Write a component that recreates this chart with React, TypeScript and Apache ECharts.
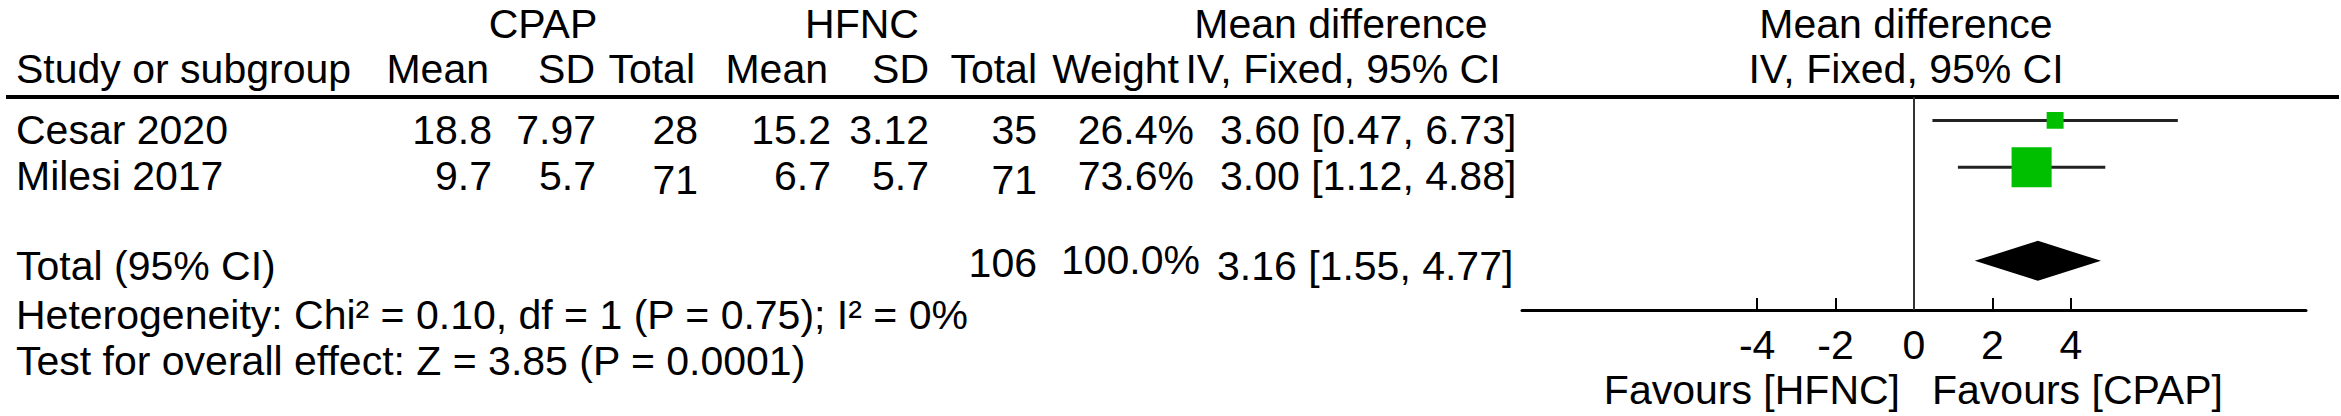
import React, { useEffect, useRef } from 'react';
import * as echarts from 'echarts';

// ---- data ----
const studies = ['Cesar 2020', 'Milesi 2017'];
const cpapMean = [18.8, 9.7];
const cpapSD = [7.97, 5.7];
const cpapTotal = [28, 71];
const hfncMean = [15.2, 6.7];
const hfncSD = [3.12, 5.7];
const hfncTotal = [35, 71];
const weights = [26.4, 73.6];
const md = [3.6, 3.0];
const ciLow = [0.47, 1.12];
const ciHigh = [6.73, 4.88];

const totalLabel = 'Total (95% CI)';
const totalHfnc = 106;
const totalWeight = 100.0;
const totalMd = 3.16;
const totalLow = 1.55;
const totalHigh = 4.77;

const heterogeneityText = 'Heterogeneity: Chi² = 0.10, df = 1 (P = 0.75); I² = 0%';
const overallText = 'Test for overall effect: Z = 3.85 (P = 0.0001)';

const axisTicks = [-4, -2, 0, 2, 4];
const axisMin = -10;
const axisMax = 10;
const favoursLeft = 'Favours [HFNC]';
const favoursRight = 'Favours [CPAP]';

const FONT_FAMILY = '"Liberation Sans", Arial, Helvetica, sans-serif';
const FS = 41;

function txt(text: string, x: number, y: number, align: 'left' | 'right' | 'center' = 'left') {
  return {
    type: 'text',
    x,
    y,
    silent: true,
    style: {
      text,
      font: `${FS}px ${FONT_FAMILY}`,
      fill: '#000',
      align,
      textAlign: align,
      verticalAlign: 'middle',
      textVerticalAlign: 'middle',
    },
  };
}

export default function App() {
  const ref = useRef<HTMLDivElement>(null);

  useEffect(() => {
    if (!ref.current) return;
    const chart = echarts.init(ref.current, undefined, { renderer: 'svg' });

    // column anchors (layout)
    const colStudy = 16;
    const colCpapMean = 492;
    const colCpapSD = 596;
    const colCpapTotal = 698;
    const colHfncMean = 831;
    const colHfncSD = 929;
    const colHfncTotal = 1037;
    const colWeight = 1194;
    const colCI = 1220;

    const yH1 = 24;
    const yH2 = 69;
    const rowY = [130, 176];
    const yTotal = 266;
    const yHet = 315;
    const yTest = 361;

    const graphics: any[] = [
      txt('CPAP', 543, yH1, 'center'),
      txt('HFNC', 862, yH1, 'center'),
      txt('Mean difference', 1341, yH1, 'center'),
      txt('Mean difference', 1906, yH1, 'center'),
      txt('Study or subgroup', colStudy, yH2, 'left'),
      txt('Mean', 489, yH2, 'right'),
      txt('SD', 595, yH2, 'right'),
      txt('Total', 695, yH2, 'right'),
      txt('Mean', 828, yH2, 'right'),
      txt('SD', 929, yH2, 'right'),
      txt('Total', 1037, yH2, 'right'),
      txt('Weight', 1179, yH2, 'right'),
      txt('IV, Fixed, 95% CI', 1343, yH2, 'center'),
      txt('IV, Fixed, 95% CI', 1906, yH2, 'center'),
      {
        type: 'line',
        silent: true,
        shape: { x1: 6, y1: 97, x2: 2339, y2: 97 },
        style: { stroke: '#000', lineWidth: 4 },
      },
    ];

    studies.forEach((s, i) => {
      const y = rowY[i];
      const dy71 = cpapTotal[i] === 71 ? 4 : 0;
      graphics.push(
        txt(s, colStudy, y, 'left'),
        txt(String(cpapMean[i]), colCpapMean, y, 'right'),
        txt(String(cpapSD[i]), colCpapSD, y, 'right'),
        txt(String(cpapTotal[i]), colCpapTotal, y + dy71, 'right'),
        txt(String(hfncMean[i]), colHfncMean, y, 'right'),
        txt(String(hfncSD[i]), colHfncSD, y, 'right'),
        txt(String(hfncTotal[i]), colHfncTotal, y + dy71, 'right'),
        txt(weights[i].toFixed(1) + '%', colWeight, y, 'right'),
        txt(`${md[i].toFixed(2)} [${ciLow[i].toFixed(2)}, ${ciHigh[i].toFixed(2)}]`, colCI, y, 'left')
      );
    });

    graphics.push(
      txt(totalLabel, colStudy, yTotal, 'left'),
      txt(String(totalHfnc), colHfncTotal, yTotal - 3, 'right'),
      txt(totalWeight.toFixed(1) + '%', colWeight + 6, yTotal - 6, 'right'),
      txt(`${totalMd.toFixed(2)} [${totalLow.toFixed(2)}, ${totalHigh.toFixed(2)}]`, colCI - 3, yTotal, 'left'),
      txt(heterogeneityText, colStudy, yHet, 'left'),
      txt(overallText, colStudy, yTest, 'left'),
      txt(favoursLeft, 1900, 390, 'right'),
      txt(favoursRight, 1932, 390, 'left')
    );

    const studyData = studies.map((_, i) => [md[i], ciLow[i], ciHigh[i], i + 1, weights[i]]);
    const totalData = [[totalMd, totalLow, totalHigh, studies.length + 2]];

    chart.setOption({
      animation: false,
      backgroundColor: '#fff',
      grid: {
        left: 1522,
        top: 97,
        width: 784,
        height: 213,
        containLabel: false,
        outerBoundsMode: 'none',
      },
      xAxis: {
        type: 'value',
        min: axisMin,
        max: axisMax,
        interval: 2,
        splitLine: { show: false },
        axisLine: { show: true, onZero: false, lineStyle: { color: '#000', width: 3 } },
        axisTick: {
          show: true,
          inside: true,
          length: 12,
          customValues: axisTicks,
          lineStyle: { color: '#000', width: 2 },
        },
        axisLabel: {
          show: true,
          customValues: axisTicks,
          fontSize: FS,
          fontFamily: FONT_FAMILY,
          color: '#000',
          margin: 14,
        },
      },
      yAxis: {
        type: 'value',
        min: 0.5,
        max: 5.05,
        inverse: true,
        show: false,
        splitLine: { show: false },
      },
      graphic: { elements: graphics },
      series: [
        {
          type: 'custom',
          name: 'studies',
          silent: true,
          coordinateSystem: 'cartesian2d',
          data: studyData,
          encode: { x: [0, 1, 2], y: 3 },
          renderItem: (params: any, api: any) => {
            const yv = api.value(3);
            const c = api.coord([api.value(0), yv]);
            const l = api.coord([api.value(1), yv]);
            const h = api.coord([api.value(2), yv]);
            const side = 4 + 0.49 * api.value(4);
            return {
              type: 'group',
              children: [
                {
                  type: 'line',
                  shape: { x1: l[0], y1: c[1], x2: h[0], y2: c[1] },
                  style: { stroke: '#222', lineWidth: 3 },
                },
                {
                  type: 'rect',
                  shape: { x: c[0] - side / 2, y: c[1] - side / 2, width: side, height: side },
                  style: { fill: '#00bf00' },
                },
              ],
            };
          },
        },
        {
          type: 'custom',
          name: 'total',
          silent: true,
          coordinateSystem: 'cartesian2d',
          data: totalData,
          encode: { x: [0, 1, 2], y: 3 },
          renderItem: (params: any, api: any) => {
            const yv = api.value(3);
            const c = api.coord([api.value(0), yv]);
            const l = api.coord([api.value(1), yv]);
            const h = api.coord([api.value(2), yv]);
            const hh = 20;
            return {
              type: 'polygon',
              shape: {
                points: [
                  [l[0], c[1]],
                  [c[0], c[1] - hh],
                  [h[0], c[1]],
                  [c[0], c[1] + hh],
                ],
              },
              style: { fill: '#000' },
            };
          },
          markLine: {
            silent: true,
            symbol: 'none',
            label: { show: false },
            lineStyle: { color: '#333', width: 2, type: 'solid' },
            data: [{ xAxis: 0 }],
          },
        },
      ],
    });

    return () => {
      chart.dispose();
    };
  }, []);

  return (
    <div
      ref={ref}
      style={{ position: 'fixed', left: 0, top: 0, width: 2341, height: 416, background: '#fff' }}
    />
  );
}
